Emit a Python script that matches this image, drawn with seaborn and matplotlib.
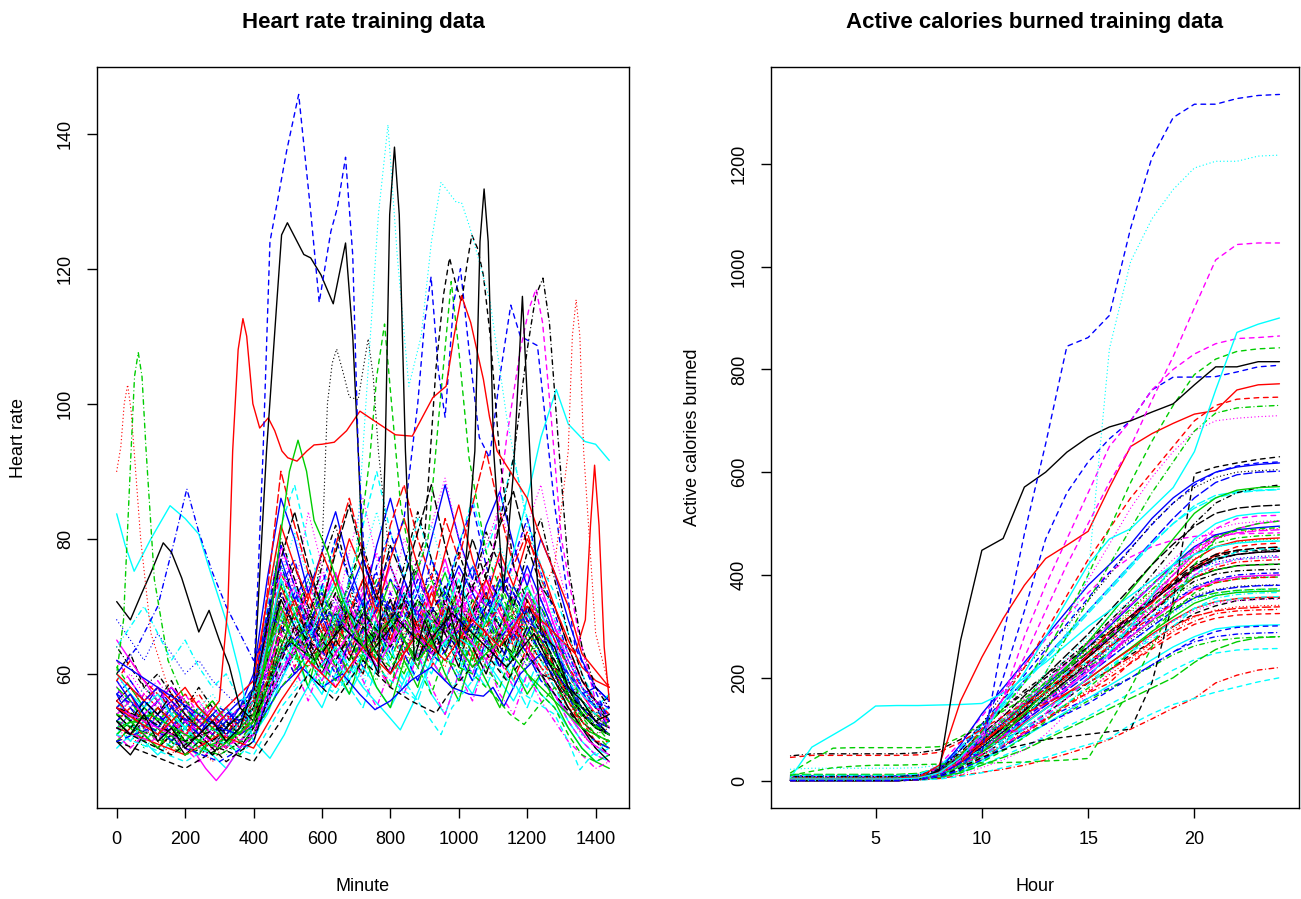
import matplotlib
matplotlib.use("Agg")
import matplotlib.pyplot as plt
import pandas as pd
import seaborn as sns

# ---------------- heart rate panel ----------------
minutes = list(range(0, 1441, 40))

# background curves, one value every 40 minutes
hr_background = [
    [53,51,54,52,50,53,51,49,52,54,56,63,71,67,62,65,69,63,60,67,71,65,62,68,66,61,69,72,65,63,70,67,61,57,54,52,51],
    [56,58,55,53,54,51,52,54,50,53,57,67,75,70,65,61,67,72,66,63,69,74,68,64,71,67,63,70,75,69,65,62,59,55,53,50,49],
    [50,52,49,51,53,50,48,51,53,50,52,59,65,69,63,59,64,68,62,59,65,61,66,70,64,60,67,63,68,65,61,66,63,58,55,52,54],
    [58,55,53,56,52,54,53,51,49,52,54,61,73,77,69,64,70,66,71,75,67,63,69,73,67,71,76,69,65,72,68,64,67,61,57,55,56],
    [52,54,56,53,51,50,53,52,51,49,51,55,61,65,60,57,62,59,63,67,61,58,63,60,65,62,59,64,67,61,58,63,59,55,52,49,48],
    [55,53,51,54,56,53,50,52,54,51,53,65,79,73,67,71,75,68,64,70,76,71,66,72,77,70,67,74,71,65,69,73,67,62,58,56,53],
    [60,63,58,56,59,55,53,56,53,51,54,60,67,63,69,66,61,67,70,64,68,72,67,63,69,65,71,68,63,67,70,64,61,59,55,53,52],
    [51,49,52,50,48,51,49,47,50,52,53,57,63,67,61,65,60,63,68,64,60,66,69,63,61,67,64,60,65,68,63,60,57,54,51,49,50],
    [54,56,53,51,53,55,52,50,53,55,58,69,76,70,66,72,68,63,69,74,69,65,71,67,73,69,64,70,74,68,72,67,63,60,56,54,55],
    [57,53,55,58,54,52,55,53,51,54,52,56,59,64,68,62,59,65,61,66,70,64,61,67,63,59,65,69,64,61,66,70,65,59,54,52,51],
    [49,51,50,48,50,52,49,48,46,49,51,54,59,63,58,55,60,57,61,58,55,59,63,57,54,60,57,62,59,56,60,57,55,52,49,47,48],
    [62,59,56,58,55,57,54,52,55,53,56,64,72,68,73,69,65,71,67,72,76,70,67,73,69,75,71,66,72,76,69,65,68,63,59,56,54],
    [53,55,52,54,51,49,52,54,51,53,55,62,69,74,67,63,68,73,68,64,69,65,71,75,68,64,70,67,63,69,73,66,62,58,55,53,51],
    [56,54,57,55,53,55,57,54,52,50,53,58,66,61,65,70,64,60,66,62,67,71,65,61,68,72,66,62,67,64,69,65,60,57,53,55,53],
    [51,53,50,52,54,51,50,53,55,52,54,59,68,65,60,64,69,65,62,67,63,60,65,69,64,67,63,68,71,66,62,67,64,57,52,50,49],
    [59,56,54,56,58,55,53,51,54,56,57,68,77,71,75,70,66,72,77,71,67,74,69,65,71,76,72,68,74,70,76,71,66,61,57,58,56],
    [55,57,54,52,50,53,55,52,50,48,50,55,62,67,62,59,65,61,58,63,67,62,59,64,68,63,60,65,61,66,63,59,57,53,50,48,47],
    [52,50,53,55,52,50,48,50,53,51,53,61,70,65,69,74,68,64,69,65,71,67,63,69,66,72,68,64,70,67,63,68,65,60,56,53,52],
    [64,61,58,60,57,55,58,55,53,55,57,63,71,76,70,66,72,68,74,70,65,71,76,70,67,73,69,75,71,67,72,68,63,59,56,54,57],
    [50,52,51,49,51,53,50,49,51,53,52,57,64,60,64,68,63,60,65,62,58,63,67,62,59,64,61,66,62,59,64,61,58,55,52,50,49],
    [54,52,55,53,55,52,54,56,53,51,54,63,74,69,64,69,73,67,63,68,74,69,65,70,75,69,66,71,67,73,69,65,62,58,54,52,53],
    [57,59,56,54,52,54,51,53,55,52,55,60,67,72,67,64,69,66,71,67,63,68,72,67,64,69,66,72,68,65,70,67,63,60,57,55,54],
    [51,53,49,51,53,51,49,51,48,50,52,56,61,58,63,60,57,62,59,64,61,57,61,64,60,57,62,59,63,60,57,61,58,55,52,51,52],
    [58,55,57,59,56,54,56,53,55,57,59,70,79,74,69,75,71,67,73,78,72,68,74,70,76,72,68,73,77,71,67,72,67,63,59,56,55],
    [53,51,53,55,53,50,52,50,52,50,52,58,66,71,65,61,66,70,64,61,66,71,66,62,67,63,69,66,61,67,64,60,59,56,53,51,50],
    [55,57,53,51,54,56,53,51,49,52,56,66,73,68,72,67,64,69,74,68,65,70,67,72,68,64,70,74,69,65,71,67,64,60,57,54,53],
    [61,58,55,53,55,52,54,52,50,53,55,59,65,62,67,71,65,62,67,64,69,65,61,66,70,65,62,68,64,70,66,63,61,57,54,52,51],
    [52,54,51,53,50,52,54,51,53,55,53,61,69,66,62,67,71,66,63,68,64,70,66,62,68,64,60,66,71,65,61,65,62,58,55,53,55],
    [56,53,55,52,54,56,53,55,52,50,52,57,63,68,63,60,64,59,62,67,62,59,64,68,63,60,66,62,58,63,67,62,58,54,51,50,49],
    [54,56,54,56,53,51,49,52,54,52,54,64,75,71,66,70,75,70,66,71,67,73,69,65,71,67,73,70,66,71,75,69,65,61,57,54,52],
    [50,48,51,49,51,48,50,48,51,49,52,58,64,69,64,60,65,62,67,63,60,65,62,67,63,68,64,60,66,62,67,63,59,55,52,49,47],
    [59,62,59,57,55,57,55,53,51,54,56,62,70,66,71,66,63,69,65,70,66,62,68,73,67,64,69,65,71,67,63,69,65,61,58,55,54],
    [53,50,52,54,52,54,52,50,52,54,54,59,67,63,67,72,66,63,68,65,70,66,63,68,64,70,66,63,67,71,65,62,60,56,53,51,53],
    [56,58,56,54,51,53,55,53,55,52,56,67,76,71,67,72,67,74,70,66,72,68,74,70,66,71,76,71,67,73,69,65,64,59,55,53,52],
    [51,53,50,52,54,52,50,52,50,52,51,55,60,65,60,57,62,58,55,61,64,59,56,62,59,65,61,58,63,59,55,60,57,53,50,48,49],
    [65,62,59,56,58,56,53,55,53,55,56,61,69,73,68,64,70,66,72,68,64,70,75,69,66,71,68,73,69,66,72,68,64,60,57,55,54],
    [54,52,54,52,50,52,50,48,50,53,55,62,72,67,63,68,72,67,70,65,71,67,64,69,73,68,65,70,67,72,68,64,62,58,54,52,51],
    [57,55,58,56,54,56,54,52,54,51,54,60,66,71,66,62,67,64,60,65,69,64,61,66,63,68,65,61,66,69,64,61,59,56,53,51,52],
    [52,54,52,50,52,50,52,54,52,50,53,63,73,69,74,69,65,71,67,72,68,65,70,74,69,65,71,67,72,68,64,70,66,61,56,53,51],
    [55,53,56,54,56,54,51,53,51,53,54,58,64,60,64,69,63,60,65,61,67,63,59,64,68,63,59,65,61,66,63,59,57,54,52,50,49],
    [60,57,55,57,54,52,55,53,55,53,57,65,74,69,65,70,74,69,65,71,67,72,68,64,69,74,69,65,71,67,73,69,64,60,57,55,57],
    [51,49,51,53,51,49,47,49,51,49,51,57,62,67,62,59,63,60,65,61,58,63,67,62,59,64,60,65,62,58,63,60,57,53,50,48,47],
    [56,58,56,54,56,53,55,53,51,53,55,63,71,66,70,65,69,73,67,63,68,72,67,70,66,62,68,72,67,69,65,62,61,57,54,52,53],
    [53,55,53,51,49,51,53,51,53,51,53,59,67,71,66,62,67,63,68,72,66,63,68,64,70,66,62,67,70,64,68,65,61,56,52,50,50],
    [58,56,53,55,53,55,52,54,52,54,56,62,69,64,68,73,67,64,70,66,62,67,71,66,72,68,64,69,65,71,67,63,61,58,55,54,52],
    [55,57,54,52,55,53,51,54,52,55,60,74,86,80,72,78,84,76,70,79,86,78,72,80,88,80,74,82,87,79,73,80,75,68,62,58,56],
    [52,50,53,51,49,52,50,52,50,53,56,70,82,88,79,72,80,74,82,90,81,74,83,77,71,79,86,78,84,92,83,76,72,66,60,56,54],
    [58,60,57,55,57,54,56,53,55,53,57,66,78,72,84,76,69,78,86,77,71,80,75,82,89,80,73,79,85,77,82,88,78,70,63,58,55],
    [54,52,55,53,51,54,52,50,53,51,55,68,80,74,68,76,82,74,79,72,68,76,84,77,70,78,72,81,76,70,78,83,74,66,60,55,53],
    [56,54,52,55,53,51,54,52,54,52,56,72,90,82,75,70,79,86,78,72,82,88,80,74,83,77,85,93,84,76,81,74,70,64,59,56,54],
    [51,53,51,49,52,50,48,51,49,52,54,63,70,64,58,66,61,57,63,58,55,62,58,65,60,56,63,59,55,61,57,60,56,52,49,47,46],
    [53,55,52,54,52,55,53,51,53,55,58,69,79,73,66,73,80,74,68,76,81,74,68,77,72,79,85,76,70,77,83,75,69,63,58,55,52],
    [57,55,58,56,54,52,55,57,54,52,56,65,74,81,74,68,74,70,77,84,76,70,76,82,75,69,76,71,79,74,68,74,68,62,58,55,57],
    [52,54,52,50,53,51,53,51,49,51,54,60,66,61,56,62,58,64,59,55,61,57,63,58,54,60,56,62,57,54,60,56,53,50,48,46,47],
    [55,53,56,54,57,54,52,50,52,54,57,67,77,84,76,70,78,85,77,71,79,74,81,88,79,72,80,74,82,87,79,73,70,64,59,56,53],
    [60,58,56,58,56,58,55,53,55,57,59,71,82,76,71,78,73,80,75,69,77,83,76,70,78,85,77,71,78,73,80,76,70,65,61,59,58],
    [50,52,50,52,50,48,50,52,50,48,51,58,64,69,63,58,64,60,67,62,58,65,61,57,63,59,66,61,58,64,60,57,55,51,48,47,48],
    [68,65,62,66,63,60,62,59,57,55,58,65,72,67,74,69,65,71,67,73,69,65,70,75,69,66,72,68,74,70,66,71,66,62,58,56,55],
    [64,67,70,66,62,65,61,58,60,56,57,63,68,73,67,63,69,65,71,67,62,68,73,67,64,70,66,71,68,64,69,66,63,59,56,54,55],
]

# stand-out heart rate curves (minute, bpm)
hr_blue_peak_x = [0,60,120,180,240,300,360,400,428,448,470,497,532,567,592,626,645,669,690,706,725,760,800,840,900,960,1020,1080,1140,1200,1260,1320,1380,1440]
hr_blue_peak_y = [57,55,58,54,52,55,53,58,93,124,130,137.5,145.8,128.5,115,125.5,129,136.5,122,93,76,70,74,71,68,72,66,70,74,68,65,60,56,55]

hr_black_peak_x = [0,40,80,120,160,200,240,280,320,360,400,438,468,482,499,547,567,597,633,669,690,706,730,765,785,798,812,826,844,870,900,940,970,1000,1047,1062,1074,1086,1102,1130,1160,1186,1215,1240,1280,1320,1360,1400,1440]
hr_black_peak_y = [53,51,54,50,52,49,51,53,50,52,58,93,115,125,126.8,122.1,121.6,119.1,114.8,123.8,110,93,64,60,93,128,138,128,93,62,68,63,70,64,93,124,131.8,124,93,72,90,115.9,85,66,64,58,56,53,54]

hr_red_peak_x = [0,60,120,180,240,300,325,339,355,369,380,398,418,443,462,483,500,527,556,577,600,636,672,711,755,815,864,924,963,986,1008,1035,1072,1090,1112,1150,1200,1240,1280,1320,1360,1440]
hr_red_peak_y = [55,53,51,54,52,56,70,93,108,112.6,110,100,96.4,97.9,96,93,92,91.5,93,93.9,94,94.3,96,98.9,97.4,95.4,95.2,100.9,102.6,110,116,112,103.6,98,93,90,86,80,75,70,63,58]

hr_cyan_dotted_x = [0,120,240,360,440,520,600,660,700,735,765,793,820,854,890,920,948,975,993,1008,1033,1060,1092,1140,1200,1280,1360,1440]
hr_cyan_dotted_y = [53,51,49,52,58,68,64,70,78,105,128,141.3,122,102.6,110,124,132.8,131,129.8,129.8,126,121,115,98,82,68,58,53]

hr_green_dotdash_x = [0,20,42,52,63,74,86,110,150,200,260,320,380,440,500,580,660,740,820,900,980,1060,1140,1220,1300,1380,1440]
hr_green_dotdash_y = [60,68,93,104,107.6,104,93,74,62,56,53,50,52,58,65,62,68,63,69,64,70,66,62,67,58,53,51]

hr_red_dotted_x = [0,12,22,32,42,51,70,100,150,200,260,320,380,440,500,580,660,740,820,900,980,1060,1140,1220,1280,1320,1332,1343,1354,1365,1400,1440]
hr_red_dotted_y = [90,93.6,100,102.8,99,93,80,66,58,54,51,49,52,59,66,63,69,64,70,66,71,67,64,70,76,93,110,115.4,110,93,66,58]

hr_black_dotted_x = [0,100,200,300,400,480,560,600,616,630,643,660,680,706,720,735,750,765,800,860,940,1020,1100,1180,1260,1340,1440]
hr_black_dotted_y = [53,51,49,48,51,60,66,78,100,106,108.1,105,101,100.6,105,109.6,104,93,76,68,65,69,63,67,62,56,52]

hr_black_dashed_x = [0,80,160,240,320,400,460,520,600,680,760,840,900,933,955,973,990,1008,1025,1038,1055,1072,1092,1120,1160,1220,1280,1340,1440]
hr_black_dashed_y = [52,50,48,51,47,50,59,67,63,69,65,71,80,105.1,116,121.6,118,115,121,125,123,119,110,92,76,68,62,56,51]

hr_black_dotdash_x = [0,100,200,300,400,480,560,640,720,800,880,960,1040,1100,1160,1200,1225,1246,1265,1290,1320,1360,1400,1440]
hr_black_dotdash_y = [55,53,50,52,54,63,68,62,69,64,71,66,73,78,92,108,116,118.6,112,95,76,64,58,55]

hr_blue_dashed_x = [0,100,200,300,400,480,560,640,720,780,840,880,900,919,940,960,985,1005,1030,1060,1090,1120,1152,1180,1230,1280,1340,1440]
hr_blue_dashed_y = [50,52,49,47,50,63,67,60,69,75,83,100,112,118.8,105,98,115,120,108,95,92,104,114.6,110,108.6,85,64,53]

hr_green_dashed_x = [0,100,200,300,400,480,560,640,700,740,760,783,800,830,870,910,945,978,1000,1030,1080,1140,1200,1280,1340,1440]
hr_green_dashed_y = [53,51,48,50,52,64,61,68,76,92,104,111.8,102,85,74,80,100,118.1,108,92,78,70,73,63,56,50]

hr_magenta_dashed_x = [0,100,200,300,400,480,560,640,720,800,880,960,1040,1100,1140,1180,1205,1226,1245,1270,1300,1350,1400,1440]
hr_magenta_dashed_y = [52,50,53,49,51,61,65,61,68,64,70,66,72,78,95,108,114,117,112,98,80,66,56,52]

hr_cyan_solid_x = [0,25,51,100,156,200,240,270,324,360,398,448,490,527,580,640,720,790,829,870,920,980,1040,1100,1160,1200,1240,1285,1320,1369,1400,1440]
hr_cyan_solid_y = [83.7,79,75.2,80,84.9,83,80.7,75.7,67.2,60,50.2,47.5,51,55.2,60,64,58,54,51.7,56,62,66,64,70,78,86,95,102.1,97,94.4,94,91.6]

hr_magenta_low_x = [0,80,160,220,260,291,320,360,400,460,520,600,680,760,840,920,1000,1080,1160,1240,1320,1380,1440]
hr_magenta_low_y = [55,53,51,49,46,44.2,46,49,51,58,64,60,66,61,68,63,67,62,68,60,54,50,48]

hr_blue_low_x = [0,60,120,180,240,300,360,420,480,540,600,660,710,755,800,860,920,980,1030,1072,1100,1132,1180,1240,1300,1360,1440]
hr_blue_low_y = [62,60,58,56,54,52,51,53,58,61,58,60,57,54.7,56,59,61,58,57,56.7,58,55.2,60,63,59,55,51]

hr_cyan_dashed_x = [0,100,200,300,400,480,560,640,720,800,880,920,948,980,1040,1100,1160,1220,1280,1320,1354,1390,1440]
hr_cyan_dashed_y = [51,49,47,50,48,55,60,57,63,59,56,53,51,55,59,62,58,56,54,50,45.8,48,50]

hr_black_low_x = [0,100,200,300,400,480,560,640,720,800,860,900,933,970,1020,1080,1140,1200,1280,1360,1440]
hr_black_low_y = [50,48,46,49,47,53,60,56,62,58,56,55,54.2,57,60,63,59,63,57,52,48]

hr_green_low_x = [0,100,200,300,400,480,560,640,720,800,880,960,1040,1100,1150,1191,1230,1280,1340,1400,1440]
hr_green_low_y = [54,52,50,48,51,58,63,59,65,61,66,62,60,57,54,52.5,55,58,55,51,49]

hr_green_solid_x = [0,100,200,300,400,440,478,505,530,555,577,617,660,720,800,880,960,1040,1120,1200,1280,1360,1440]
hr_green_solid_y = [52,54,51,49,53,64,80.2,90,94.6,90,82.7,78,71,64,68,62,67,61,65,60,56,52,50]

hr_blue_dotdash_x = [0,60,120,170,205,240,280,320,360,400,460,540,620,700,780,860,940,1020,1100,1180,1260,1340,1440]
hr_blue_dotdash_y = [60,64,70,80,87.4,81,75,70,66,62,68,64,69,65,71,66,62,68,64,69,61,55,51]

hr_black_left_x = [0,40,71,100,136,160,190,240,270,300,329,360,400,440,500,580,660,740,820,900,980,1060,1140,1220,1300,1380,1440]
hr_black_left_y = [70.7,68,71.7,75,79.4,78,74.2,66.2,69.4,65,61.2,55,53,58,65,62,67,63,68,64,69,65,61,66,58,53,51]

hr_red_spike_x = [0,100,200,300,400,480,560,640,720,800,880,960,1040,1120,1200,1280,1340,1370,1385,1397,1410,1425,1440]
hr_red_spike_y = [52,50,48,51,49,56,62,58,64,60,66,62,68,64,70,66,63,68,82,90.9,82,64,56]

# ---------------- calories panel ----------------
hours = list(range(1, 25))

cal_background = [
    [0,0,0,0,0,0,2,10,35,65,95,125,160,195,225,260,290,330,365,395,410,418,420,421],
    [5,5,5,5,5,5,8,20,45,80,110,140,170,205,240,270,305,340,375,410,440,455,460,462],
    [2,2,2,2,2,3,5,15,40,70,100,135,165,200,230,265,300,335,360,380,390,395,398,400],
    [0,0,0,0,1,2,4,12,30,55,80,100,120,140,160,180,200,225,250,270,280,285,287,288],
    [8,8,8,8,8,8,10,25,60,100,145,190,235,280,325,370,415,460,500,535,555,562,565,567],
    [3,3,3,3,3,3,6,18,42,75,105,135,170,210,245,280,320,360,400,440,470,490,500,505],
    [0,0,0,0,0,0,1,8,25,50,75,100,130,160,190,215,245,270,300,325,340,350,353,355],
    [10,10,10,10,10,10,12,22,50,80,115,150,185,220,255,290,330,370,410,445,470,482,488,490],
    [1,1,1,1,1,1,3,10,28,48,68,88,110,132,155,178,200,222,245,262,272,277,279,280],
    [4,4,4,4,4,4,7,22,60,105,150,195,240,285,330,375,420,465,510,550,580,595,600,602],
    [0,0,0,0,0,0,2,6,20,40,60,85,110,135,160,185,210,235,260,280,295,300,302,303],
    [6,6,6,6,6,6,9,30,75,125,175,225,275,320,365,405,435,455,468,475,478,480,481,482],
    [2,2,2,2,2,2,4,14,38,68,95,125,155,185,215,245,275,305,335,360,372,378,380,381],
    [0,0,0,0,0,1,3,12,35,62,92,122,155,190,225,260,295,330,365,395,415,425,428,430],
    [12,12,12,12,12,12,14,25,48,75,100,130,160,190,220,250,280,310,335,355,365,370,372,373],
    [3,3,3,3,3,3,5,16,44,78,112,148,185,222,260,300,340,380,420,455,478,488,492,495],
    [0,0,0,0,0,0,1,5,15,30,48,66,85,105,125,148,170,192,215,235,248,254,256,257],
    [7,7,7,7,7,7,10,22,52,88,125,160,198,235,272,310,350,390,430,465,490,500,504,506],
    [1,1,1,1,1,1,3,12,36,64,96,128,162,196,230,262,295,328,360,388,402,408,410,411],
    [4,4,4,4,4,4,6,18,40,72,102,135,170,205,240,275,312,348,382,415,438,448,452,455],
    [0,0,0,0,0,0,2,9,28,55,82,110,140,168,198,228,258,290,318,345,360,366,368,369],
    [9,9,9,9,9,9,11,26,65,110,158,205,255,305,355,405,452,498,540,575,600,612,618,620],
    [2,2,2,2,2,2,4,13,34,62,90,118,148,178,208,238,268,298,326,350,362,368,371,372],
    [0,0,0,0,0,0,2,10,32,60,90,122,155,190,225,262,300,338,375,408,430,440,444,446],
    [5,5,5,5,5,5,8,20,46,78,110,145,180,215,250,285,320,355,390,420,440,448,452,454],
    [1,1,1,1,1,1,3,11,30,56,84,112,140,170,198,228,256,285,312,335,348,354,356,357],
    [6,6,6,6,6,6,9,22,52,86,120,156,192,230,268,305,344,382,418,452,475,486,490,492],
    [3,3,3,3,3,3,5,15,38,66,96,126,158,190,222,256,288,320,350,376,390,396,398,399],
    [0,0,0,0,0,0,2,8,26,50,76,104,132,162,192,222,252,282,310,335,348,354,357,358],
    [8,8,8,8,8,8,10,23,50,84,118,154,190,228,266,304,342,380,416,450,472,482,486,488],
    [2,2,2,2,2,2,4,14,40,70,102,136,170,205,240,276,312,348,382,412,432,440,444,446],
    [0,0,0,0,0,0,1,7,22,44,68,92,118,145,172,200,228,256,282,304,316,322,324,325],
    [4,4,4,4,4,4,7,18,44,76,108,142,178,214,250,288,326,364,400,432,454,464,468,470],
    [1,1,1,1,1,1,3,12,34,62,90,120,152,184,216,248,282,316,348,376,392,400,403,404],
    [10,10,10,10,10,10,12,28,65,108,152,196,240,285,330,375,420,462,500,530,550,560,564,566],
    [0,0,0,0,0,0,2,10,30,58,86,116,148,180,212,246,280,312,344,372,388,396,399,400],
    [3,3,3,3,3,3,5,16,42,72,104,138,172,208,244,280,316,352,386,416,436,445,448,450],
    [0,0,0,0,0,0,1,6,20,42,66,92,120,148,176,206,236,266,294,318,332,338,340,341],
    [6,6,6,6,6,6,8,20,48,82,116,150,186,222,258,296,334,372,408,440,462,472,476,478],
    [2,2,2,2,2,2,4,12,34,60,88,116,146,176,206,238,270,300,330,356,370,376,379,380],
    [0,0,0,0,0,0,1,5,15,35,70,110,140,165,200,250,300,360,420,470,500,515,520,522],
    [2,2,2,2,2,2,3,8,25,60,90,100,130,180,220,240,290,350,400,450,490,510,515,516],
    [0,0,0,0,0,0,2,18,60,110,170,220,260,300,350,400,450,500,540,570,590,600,603,605],
    [5,5,5,5,5,5,6,12,30,50,70,95,120,150,170,190,230,260,290,310,325,330,332,333],
    [1,1,1,1,1,1,2,6,15,30,45,60,80,100,120,140,160,180,200,230,255,270,278,280],
    [0,0,0,0,0,0,3,20,70,130,180,230,280,330,380,420,460,510,550,580,600,610,615,618],
    [3,3,3,3,3,3,5,14,40,60,80,120,170,210,230,260,300,320,360,400,430,445,450,452],
    [0,0,0,0,0,0,1,4,12,25,40,60,90,130,170,210,250,280,310,330,345,350,352,353],
    [8,8,8,8,8,8,10,22,55,95,140,175,205,235,270,310,350,400,450,500,540,560,570,575],
    [0,0,0,0,0,0,2,12,40,75,105,130,150,170,190,215,240,270,300,320,330,335,337,338],
    [2,2,2,2,2,2,4,10,28,55,90,130,175,220,270,320,370,420,470,520,550,565,570,572],
    [0,0,0,0,0,0,1,8,22,40,65,90,110,130,150,175,200,225,250,275,290,298,300,301],
    [6,6,6,6,6,6,8,18,45,85,120,150,190,240,280,320,350,380,410,440,455,462,465,467],
    [1,1,1,1,1,1,3,10,30,52,70,92,125,160,200,245,290,330,370,400,420,430,433,435],
    [0,0,0,0,0,0,2,15,50,90,125,165,205,245,285,330,375,420,460,495,520,530,534,536],
    [4,4,4,4,4,4,6,16,35,70,110,145,170,200,245,290,320,345,390,430,455,466,470,472],
    [0,0,0,0,0,0,1,6,18,36,58,84,115,150,180,215,250,290,330,365,385,392,395,396],
    [7,7,7,7,7,7,9,20,50,85,110,140,180,220,250,275,310,350,380,410,425,432,436,438],
    [2,2,2,2,2,2,3,9,25,45,72,100,125,150,185,220,250,275,300,335,355,362,365,366],
]

cal_blue_top = [0,0,0,0,0,0,2,10,35,55,280,480,655,845,862,905,1075,1212,1290,1316,1316,1327,1333,1335]
cal_cyan_dotted_top = [0,0,0,0,0,1,3,12,30,60,100,150,210,290,400,840,1010,1093,1150,1192,1205,1205,1215,1217]
cal_magenta_top = [0,0,0,0,0,0,2,10,40,90,160,240,330,420,500,580,650,740,825,920,1013,1043,1046,1046]
cal_cyan_late = [3,3,3,3,3,3,5,15,45,90,150,210,280,350,420,470,490,530,570,640,760,872,888,900]
cal_black_early = [0,0,0,0,0,0,2,20,273,448,471,571,600,639,668,688,700,717,733,770,805,805,815,815]
cal_red_early = [2,2,2,2,2,2,5,30,155,240,315,380,432,458,485,570,650,675,695,713,720,760,770,772]
cal_black_late = [0,0,0,0,0,0,1,8,25,45,60,70,80,85,90,95,100,190,350,597,610,618,625,630]
cal_green_late = [10,18,25,28,30,30,31,32,33,34,35,36,38,40,43,110,180,260,340,420,470,490,500,505]
cal_cyan_early = [6,65,89,113,145,146,146,147,148,150,170,200,230,265,300,330,360,390,420,440,455,462,465,466]
cal_red_low = [0,0,0,0,0,0,1,4,10,16,22,30,40,52,65,80,100,120,141,160,190,205,215,220]
cal_cyan_low = [0,0,0,0,0,0,1,3,8,15,25,35,45,58,70,82,109,130,148,160,172,182,192,200]
cal_magenta_mid = [0,0,0,0,0,0,2,15,45,80,160,280,380,470,560,650,700,760,800,830,850,860,862,865]
cal_green_high = [0,0,0,0,0,0,3,15,50,95,140,190,250,320,400,490,580,660,730,790,820,835,840,842]
cal_blue_mid = [0,0,0,0,0,0,2,8,20,90,200,330,470,560,620,665,700,760,785,785,786,795,805,808]
cal_black_flat = [48,52,52,52,52,52,54,60,80,110,140,170,200,230,260,290,320,350,380,410,430,440,445,448]
cal_red_flat = [45,49,49,49,49,49,50,55,75,100,125,150,178,205,232,260,290,318,345,370,385,392,395,396]
cal_green_flat = [15,40,63,64,64,64,64,66,85,110,135,160,190,220,250,280,310,340,370,395,410,418,420,421]
cal_cyan_flat = [22,24,24,24,24,24,25,30,50,80,110,140,170,200,235,270,305,340,370,400,420,430,433,435]
cal_magenta_dotted = [0,0,0,0,0,0,2,12,40,80,130,190,250,320,390,460,530,590,640,680,700,705,708,710]
cal_red_dashed = [0,0,0,0,0,0,3,15,50,100,160,220,290,360,430,490,550,600,650,700,730,742,745,746]
cal_green_dotdash = [0,0,0,0,0,0,2,10,30,60,100,150,210,280,350,420,490,560,620,680,715,725,728,730]

# ---------------- styling (R matplot look) ----------------
R_COLORS = {"black": "#000000", "red": "#FF0000", "green": "#00CD00",
            "blue": "#0000FF", "cyan": "#00FFFF", "magenta": "#FF00FF"}
COLOR_CYCLE = ["black", "red", "green", "blue", "cyan", "magenta"]
LTY_CYCLE = ["solid", "dashed", "dotted", "dotdash", "longdash"]
LW = 1.0
U = 0.85
LTY = {"solid": "", "dashed": (4 * U, 4 * U), "dotted": (0.01, 3 * U),
       "dotdash": (0.01, 3 * U, 4 * U, 3 * U), "longdash": (7 * U, 3 * U)}

sns.set_theme(style="ticks")
plt.rcParams["font.family"] = ["Liberation Sans", "DejaVu Sans"]
plt.rcParams["lines.scale_dashes"] = False
for key in ["text.color", "axes.labelcolor", "xtick.color", "ytick.color", "axes.edgecolor"]:
    plt.rcParams[key] = "black"


def build(background, grid, features, prefix):
    frames, colors, dashes, order = [], {}, {}, []
    for i, row in enumerate(background):
        name = f"{prefix}_bg{i:02d}"
        frames.append(pd.DataFrame({"curve": name, "x": grid, "y": row}))
        colors[name] = R_COLORS[COLOR_CYCLE[i % 6]]
        dashes[name] = LTY[LTY_CYCLE[i % 5]]
        order.append(name)
    for j, (xs, ys, col, lty) in enumerate(features):
        name = f"{prefix}_ft{j:02d}"
        frames.append(pd.DataFrame({"curve": name, "x": xs, "y": ys}))
        colors[name] = R_COLORS[col]
        dashes[name] = LTY[lty]
        order.append(name)
    return pd.concat(frames, ignore_index=True), colors, dashes, order


hr_features = [
    (hr_cyan_solid_x, hr_cyan_solid_y, "cyan", "solid"),
    (hr_magenta_low_x, hr_magenta_low_y, "magenta", "solid"),
    (hr_blue_low_x, hr_blue_low_y, "blue", "solid"),
    (hr_cyan_dashed_x, hr_cyan_dashed_y, "cyan", "dashed"),
    (hr_black_low_x, hr_black_low_y, "black", "dashed"),
    (hr_green_low_x, hr_green_low_y, "green", "dashed"),
    (hr_blue_dotdash_x, hr_blue_dotdash_y, "blue", "dotdash"),
    (hr_black_left_x, hr_black_left_y, "black", "solid"),
    (hr_green_solid_x, hr_green_solid_y, "green", "solid"),
    (hr_red_spike_x, hr_red_spike_y, "red", "solid"),
    (hr_magenta_dashed_x, hr_magenta_dashed_y, "magenta", "dashed"),
    (hr_green_dashed_x, hr_green_dashed_y, "green", "dashed"),
    (hr_blue_dashed_x, hr_blue_dashed_y, "blue", "dashed"),
    (hr_black_dotdash_x, hr_black_dotdash_y, "black", "dotdash"),
    (hr_black_dashed_x, hr_black_dashed_y, "black", "dashed"),
    (hr_black_dotted_x, hr_black_dotted_y, "black", "dotted"),
    (hr_red_dotted_x, hr_red_dotted_y, "red", "dotted"),
    (hr_green_dotdash_x, hr_green_dotdash_y, "green", "dotdash"),
    (hr_cyan_dotted_x, hr_cyan_dotted_y, "cyan", "dotted"),
    (hr_red_peak_x, hr_red_peak_y, "red", "solid"),
    (hr_black_peak_x, hr_black_peak_y, "black", "solid"),
    (hr_blue_peak_x, hr_blue_peak_y, "blue", "dashed"),
]

cal_features = [
    (hours, cal_black_flat, "black", "dotdash"),
    (hours, cal_red_flat, "red", "dashed"),
    (hours, cal_green_flat, "green", "dashed"),
    (hours, cal_cyan_flat, "cyan", "dotted"),
    (hours, cal_red_low, "red", "dotdash"),
    (hours, cal_cyan_low, "cyan", "dashed"),
    (hours, cal_cyan_early, "cyan", "solid"),
    (hours, cal_green_late, "green", "dashed"),
    (hours, cal_black_late, "black", "dashed"),
    (hours, cal_magenta_dotted, "magenta", "dotted"),
    (hours, cal_red_dashed, "red", "dashed"),
    (hours, cal_green_dotdash, "green", "dotdash"),
    (hours, cal_blue_mid, "blue", "dashed"),
    (hours, cal_green_high, "green", "dashed"),
    (hours, cal_magenta_mid, "magenta", "dashed"),
    (hours, cal_red_early, "red", "solid"),
    (hours, cal_black_early, "black", "solid"),
    (hours, cal_cyan_late, "cyan", "solid"),
    (hours, cal_magenta_top, "magenta", "dashed"),
    (hours, cal_cyan_dotted_top, "cyan", "dotted"),
    (hours, cal_blue_top, "blue", "dashed"),
]

fig = plt.figure(figsize=(13.01, 8.99), dpi=100)
ax_hr = fig.add_axes([97 / 1301, 91 / 899, 532 / 1301, 741 / 899])
ax_cal = fig.add_axes([771 / 1301, 91 / 899, 528 / 1301, 741 / 899])

panels = [
    (ax_hr, build(hr_background, minutes, hr_features, "hr"),
     "Heart rate training data", "Minute", "Heart rate",
     list(range(0, 1401, 200)), [60, 80, 100, 120, 140]),
    (ax_cal, build(cal_background, hours, cal_features, "cal"),
     "Active calories burned training data", "Hour", "Active calories burned",
     [5, 10, 15, 20], list(range(0, 1201, 200))),
]

for ax, (df, colors, dashes, order), title, xlab, ylab, xt, yt in panels:
    sns.lineplot(data=df, x="x", y="y", hue="curve", style="curve",
                 hue_order=order, style_order=order, palette=colors, dashes=dashes,
                 estimator=None, sort=False, legend=False, linewidth=LW,
                 dash_capstyle="round", solid_capstyle="round", ax=ax)
    # R-style 4% axis extension
    x0, x1 = df["x"].min(), df["x"].max()
    y0, y1 = df["y"].min(), df["y"].max()
    ax.set_xlim(x0 - 0.04 * (x1 - x0), x1 + 0.04 * (x1 - x0))
    ax.set_ylim(y0 - 0.04 * (y1 - y0), y1 + 0.04 * (y1 - y0))
    ax.set_xticks(xt)
    ax.set_yticks(yt)
    ax.set_title(title, fontsize=16, fontweight="bold", pad=28)
    ax.set_xlabel(xlab, fontsize=13, labelpad=22)
    ax.set_ylabel(ylab, fontsize=13, labelpad=22)
    ax.tick_params(direction="out", length=7.5, width=1.0, pad=9, labelsize=13,
                   colors="black", top=False, right=False)
    for lbl in ax.get_yticklabels():
        lbl.set_rotation(90)
        lbl.set_va("center")
    for sp in ax.spines.values():
        sp.set_visible(True)
        sp.set_color("black")
        sp.set_linewidth(1.0)
    ax.grid(False)

fig.savefig("out.png", dpi=100)
